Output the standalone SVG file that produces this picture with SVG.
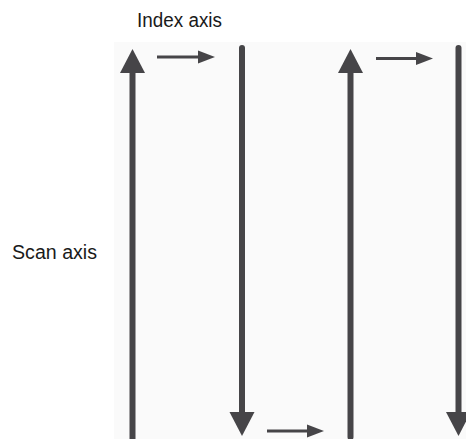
<svg xmlns="http://www.w3.org/2000/svg" width="466" height="439" viewBox="0 0 466 439">
  <defs>
    <style>
      .lbl { font-family: "Liberation Sans", Arial, sans-serif; font-size: 20px; fill: #1a1a1a; }
      .scan { stroke: #464548; stroke-width: 6; fill: none; }
      .index { stroke: #464548; stroke-width: 3; fill: none; }
    </style>
    <marker id="bigHead" markerUnits="userSpaceOnUse" markerWidth="24" markerHeight="26" refX="0" refY="12.5" orient="auto" overflow="visible">
      <path d="M0,0 L24,12.5 L0,25 z" fill="#464548"/>
    </marker>
    <marker id="smallHead" markerUnits="userSpaceOnUse" markerWidth="17" markerHeight="14" refX="0" refY="6.5" orient="auto" overflow="visible">
      <path d="M0,0 L17,6.5 L0,13 z" fill="#464548"/>
    </marker>
  </defs>
  <rect width="466" height="439" fill="#ffffff"/>
  <rect x="114" y="42" width="352" height="397" fill="#fafafa"/>

  <g id="index-axis-label">
    <text class="lbl" x="137" y="27" textLength="85" lengthAdjust="spacingAndGlyphs">Index axis</text>
  </g>
  <g id="scan-axis-label">
    <text class="lbl" x="12" y="259" textLength="85" lengthAdjust="spacingAndGlyphs">Scan axis</text>
  </g>

  <g id="connectors">
    <line class="scan" x1="132.5" y1="439" x2="132.5" y2="73" marker-end="url(#bigHead)"/>
    <line class="scan" x1="242" y1="48" x2="242" y2="412" stroke-linecap="round" marker-end="url(#bigHead)"/>
    <line class="scan" x1="350.5" y1="437" x2="350.5" y2="73" stroke-linecap="round" marker-end="url(#bigHead)"/>
    <line class="scan" x1="458.5" y1="48" x2="458.5" y2="412" stroke-linecap="round" marker-end="url(#bigHead)"/>

    <line class="index" x1="157" y1="57" x2="198" y2="57" marker-end="url(#smallHead)"/>
    <line class="index" x1="267" y1="431" x2="307" y2="431" marker-end="url(#smallHead)"/>
    <line class="index" x1="376" y1="58.5" x2="416" y2="58.5" marker-end="url(#smallHead)"/>
  </g>
</svg>
